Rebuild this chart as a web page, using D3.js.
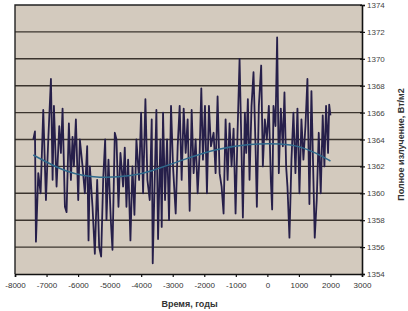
<!DOCTYPE html>
<html>
<head>
<meta charset="utf-8">
<script src="https://d3js.org/d3.v7.min.js"></script>
<style>
  body { margin: 0; background: #fff; }
  svg { display: block; font-family: "Liberation Sans", Arial, sans-serif; }
</style>
</head>
<body>
<div id="chart"></div>
<script>
// years of the reconstruction
const years = [-7420,-7367,-7336,-7262,-7188,-7104,-7019,-6945,-6861,-6808,-6766,-6682,-6597,-6545,-6492,-6418,
  -6365,-6292,-6228,-6176,-6133,-6070,-5996,-5944,-5859,-5785,-5712,-5669,-5627,-5543,-5469,-5395,-5332,-5269,
  -5205,-5142,-5100,-5037,-4963,-4910,-4836,-4783,-4720,-4657,-4573,-4520,-4467,-4414,-4341,-4277,-4214,-4151,
  -4066,-4003,-3940,-3866,-3803,-3729,-3666,-3634,-3571,-3518,-3465,-3391,-3349,-3307,-3244,-3180,-3117,-3054,
  -2991,-2906,-2843,-2780,-2717,-2653,-2590,-2527,-2463,-2400,-2337,-2274,-2210,-2147,-2094,-2042,-1978,-1915,
  -1852,-1789,-1704,-1641,-1578,-1514,-1451,-1388,-1324,-1261,-1198,-1135,-1071,-1008,-945,-881,-818,-776,-713,
  -671,-618,-565,-502,-439,-375,-333,-270,-196,-143,-80,-17,47,110,152,194,258,310,363,426,490,542,595,637,700,
  764,827,890,954,1017,1080,1143,1207,1270,1333,1397,1460,1502,1565,1629,1692,1755,1808,1861,1924,1960,2000];

// total irradiance, W/m2
const irradiance = [1364.0,1364.6,1356.4,1361.5,1360.0,1366.2,1359.5,1364.0,1368.5,1361.0,1366.5,1360.5,1365.0,1363.0,1366.3,1359.0,
  1358.6,1365.2,1361.0,1364.2,1362.0,1365.5,1359.5,1364.0,1362.0,1360.0,1363.5,1356.5,1362.0,1359.0,1355.5,1361.0,1356.0,1355.3,
  1361.0,1364.0,1358.0,1362.5,1358.0,1355.8,1364.5,1364.0,1359.0,1363.0,1360.5,1363.4,1359.0,1362.5,1356.5,1362.0,1358.4,1364.0,
  1361.0,1366.0,1360.0,1367.0,1361.0,1359.5,1365.5,1354.8,1361.0,1366.2,1356.6,1364.0,1357.5,1366.0,1359.5,1364.0,1358.0,1366.5,
  1362.0,1358.5,1363.5,1366.5,1361.0,1366.3,1363.0,1365.5,1358.7,1366.2,1361.5,1364.0,1360.0,1363.0,1367.8,1362.5,1366.5,1360.0,
  1366.5,1363.5,1364.5,1361.5,1367.2,1361.5,1360.5,1358.5,1365.5,1361.0,1365.2,1362.0,1364.8,1358.5,1364.5,1370.0,1363.0,1358.2,1366.0,
  1363.0,1367.0,1361.0,1366.5,1369.0,1363.5,1359.0,1366.5,1369.5,1362.0,1365.5,1364.0,1366.5,1361.0,1358.8,1366.5,1365.0,1371.6,1361.5,1366.3,1363.5,1367.5,1362.0,1360.5,1356.7,
  1362.5,1366.0,1361.5,1366.3,1360.0,1365.5,1362.5,1365.0,1368.5,1359.2,1367.6,1361.0,1356.7,1359.5,1364.5,1360.0,1365.8,1362.0,1366.5,1363.0,1366.6,1365.8];

// polynomial trend
const trendYears = [-7420,-6365,-5310,-4250,-3730,-2670,-1620,-565,490,1017,1545,2000];
const trendValues = [1362.85,1361.5,1361.1,1361.3,1361.6,1362.5,1363.3,1363.7,1363.7,1363.5,1363.0,1362.4];

const xTicks = [-8000,-7000,-6000,-5000,-4000,-3000,-2000,-1000,0,1000,2000,3000];
const yTicks = [1354,1356,1358,1360,1362,1364,1366,1368,1370,1372,1374];

const W = 408, H = 311;
const pLeft = 15, pRight = 362, pTop = 5, pBottom = 274;

const svg = d3.select("#chart").append("svg").attr("width", W).attr("height", H);

const x = d3.scaleLinear().domain([-8000, 3000]).range([pLeft, pRight]);
const y = d3.scaleLinear().domain([1354, 1374]).range([pBottom, pTop]);

// plot area
svg.append("rect")
  .attr("x", pLeft).attr("y", pTop)
  .attr("width", pRight - pLeft).attr("height", pBottom - pTop)
  .attr("fill", "#d3cabe");

// gridlines
svg.append("g").selectAll("line")
  .data(yTicks.slice(1, -1))
  .join("line")
  .attr("x1", pLeft).attr("x2", pRight)
  .attr("y1", d => y(d)).attr("y2", d => y(d))
  .attr("stroke", "#3b342e").attr("stroke-width", 1.4);

// border top / left
svg.append("path")
  .attr("d", `M${pLeft},${pBottom}V${pTop}H${pRight}`)
  .attr("fill", "none").attr("stroke", "#222").attr("stroke-width", 1.4);

const pts = years.map((d, i) => [d, irradiance[i]]);
const line = d3.line().x(d => x(d[0])).y(d => y(d[1]));

svg.append("path")
  .datum(pts)
  .attr("d", line)
  .attr("fill", "none")
  .attr("stroke", "#261f4a")
  .attr("stroke-width", 1.8)
  .attr("stroke-linejoin", "round");

const trend = trendYears.map((d, i) => [d, trendValues[i]]);
svg.append("path")
  .datum(trend)
  .attr("d", d3.line().curve(d3.curveBasis).x(d => x(d[0])).y(d => y(d[1])))
  .attr("fill", "none")
  .attr("stroke", "#2f6a8c")
  .attr("stroke-width", 1.5);

// axes
const xAxis = svg.append("g")
  .attr("transform", `translate(0,${pBottom})`)
  .call(d3.axisBottom(x).tickValues(xTicks).tickSize(3).tickFormat(d => String(d)));
xAxis.select(".domain").attr("stroke", "#111").attr("stroke-width", 1.6);
xAxis.selectAll(".tick line").attr("stroke", "#111").attr("stroke-width", 1.2);
xAxis.selectAll("text").attr("font-size", 8).attr("fill", "#333").attr("dy", "1.05em");

const yAxis = svg.append("g")
  .attr("transform", `translate(${pRight},0)`)
  .call(d3.axisRight(y).tickValues(yTicks).tickSize(3).tickFormat(d => String(d)));
yAxis.select(".domain").attr("stroke", "#111").attr("stroke-width", 1.6);
yAxis.selectAll(".tick line").attr("x1", -2).attr("stroke", "#111").attr("stroke-width", 1.2);
yAxis.selectAll("text").attr("font-size", 8).attr("fill", "#444").attr("x", 5);

svg.append("text")
  .attr("x", (pLeft + pRight) / 2 + 1).attr("y", 307)
  .attr("text-anchor", "middle")
  .attr("font-size", 9).attr("font-weight", "bold").attr("fill", "#333")
  .text("Время, годы");

svg.append("text")
  .attr("transform", `translate(404,${(pTop + pBottom) / 2 + 5}) rotate(-90)`)
  .attr("text-anchor", "middle")
  .attr("font-size", 9).attr("font-weight", "bold").attr("fill", "#333")
  .text("Полное излучение, Вт/м2");
</script>
</body>
</html>
